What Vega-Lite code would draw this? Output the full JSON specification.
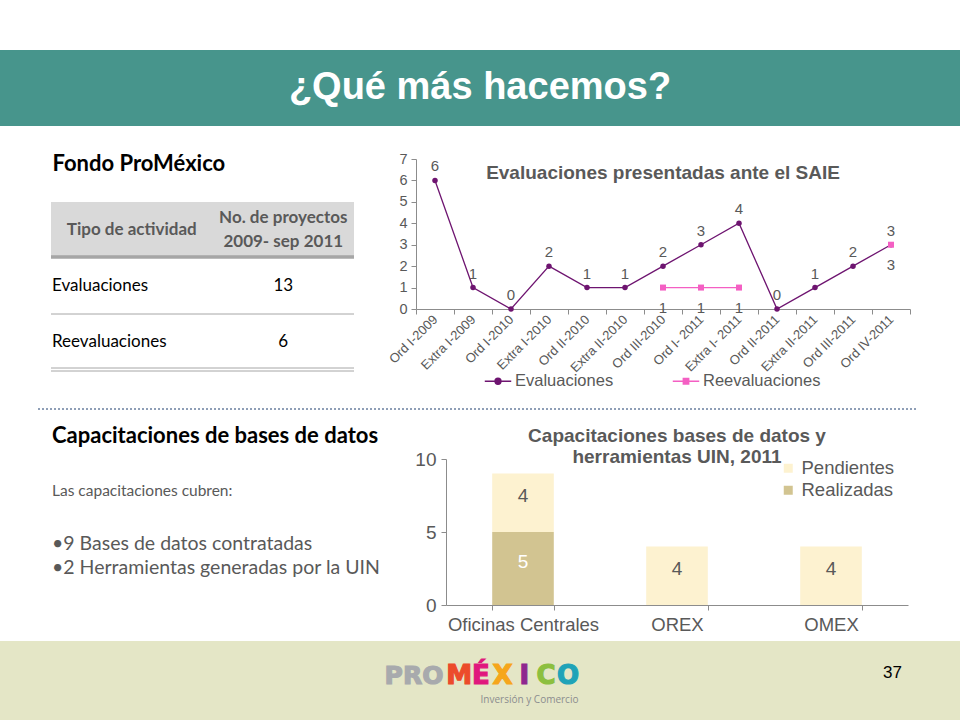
{
  "$schema": "https://vega.github.io/schema/vega-lite/v6.json",
  "background": "white",
  "padding": {"top": 50, "left": 0, "right": 0, "bottom": 0},
  "spacing": 0,
  "resolve": {"scale": {"color": "independent"}, "legend": {"color": "independent"}},
  "config": {
    "view": {"stroke": null},
    "font": "Liberation Sans",
    "axis": {"domainColor": "#8c8c8c", "tickColor": "#8c8c8c", "labelColor": "#595959", "labelFont": "Liberation Sans", "grid": false}
  },
  "datasets": {
    "encabezado": [
      {"fila": "encabezado", "columna": "actividad", "texto": "Tipo de actividad"},
      {"fila": "encabezado", "columna": "proyectos", "texto": ["No. de proyectos", "2009- sep 2011"]}
    ],
    "fondo": [
      {"actividad": "Evaluaciones", "proyectos": 13},
      {"actividad": "Reevaluaciones", "proyectos": 6}
    ],
    "evaluaciones": [
      {"periodo": "Ord I-2009", "serie": "Evaluaciones", "valor": 6},
      {"periodo": "Extra I-2009", "serie": "Evaluaciones", "valor": 1},
      {"periodo": "Ord I-2010", "serie": "Evaluaciones", "valor": 0},
      {"periodo": "Extra I-2010", "serie": "Evaluaciones", "valor": 2},
      {"periodo": "Ord II-2010", "serie": "Evaluaciones", "valor": 1},
      {"periodo": "Extra II-2010", "serie": "Evaluaciones", "valor": 1},
      {"periodo": "Ord III-2010", "serie": "Evaluaciones", "valor": 2},
      {"periodo": "Ord I- 2011", "serie": "Evaluaciones", "valor": 3},
      {"periodo": "Extra I- 2011", "serie": "Evaluaciones", "valor": 4},
      {"periodo": "Ord II-2011", "serie": "Evaluaciones", "valor": 0},
      {"periodo": "Extra II-2011", "serie": "Evaluaciones", "valor": 1},
      {"periodo": "Ord III-2011", "serie": "Evaluaciones", "valor": 2},
      {"periodo": "Ord IV-2011", "serie": "Evaluaciones", "valor": 3},
      {"periodo": "Ord III-2010", "serie": "Reevaluaciones", "valor": 1},
      {"periodo": "Ord I- 2011", "serie": "Reevaluaciones", "valor": 1},
      {"periodo": "Extra I- 2011", "serie": "Reevaluaciones", "valor": 1},
      {"periodo": "Ord II-2011", "serie": "Reevaluaciones", "valor": null},
      {"periodo": "Extra II-2011", "serie": "Reevaluaciones", "valor": null},
      {"periodo": "Ord III-2011", "serie": "Reevaluaciones", "valor": null},
      {"periodo": "Ord IV-2011", "serie": "Reevaluaciones", "valor": 3}
    ],
    "capacitaciones": [
      {"oficina": "Oficinas Centrales", "estado": "Realizadas", "valor": 5},
      {"oficina": "Oficinas Centrales", "estado": "Pendientes", "valor": 4},
      {"oficina": "OREX", "estado": "Pendientes", "valor": 4},
      {"oficina": "OMEX", "estado": "Pendientes", "valor": 4}
    ]
  },
  "vconcat": [
    {
      "width": 960, "height": 76,
      "view": {"fill": "#47958c", "stroke": null},
      "data": {"values": [{"titulo": "¿Qué más hacemos?"}]},
      "mark": {"type": "text", "font": "Liberation Sans", "fontWeight": "bold", "fontSize": 38, "color": "#ffffff"},
      "encoding": {"text": {"field": "titulo"}}
    },
    {
      "spacing": 0,
      "resolve": {"scale": {"color": "independent"}, "legend": {"color": "independent"}},
      "hconcat": [
        {"width": 49, "height": 282, "data": {"values": []}, "mark": "text"},
        {
          "spacing": 0,
          "vconcat": [
            {"width": 303, "height": 27, "data": {"values": []}, "mark": "text"},
            {
              "width": 303, "height": 168,
              "title": {"text": "Fondo ProMéxico", "anchor": "start", "orient": "top", "offset": 26, "dx": 3, "font": "Lato", "fontSize": 22, "fontWeight": "bold", "color": "#000000"},
              "layer": [
                {
                  "data": {"name": "encabezado"},
                  "mark": {"type": "rect", "color": "#d9d9d9"},
                  "encoding": {"y": {"field": "fila", "type": "nominal", "axis": null, "scale": {"type": "band", "domain": ["encabezado", "Evaluaciones", "Reevaluaciones"], "paddingInner": 0, "paddingOuter": 0}}}
                },
                {
                  "data": {"name": "encabezado"},
                  "mark": {"type": "rule", "color": "#a6a6a6", "strokeWidth": 3, "yOffset": -1},
                  "encoding": {"y": {"field": "fila", "type": "nominal", "bandPosition": 1, "axis": null}}
                },
                {
                  "data": {"name": "fondo"},
                  "transform": [{"filter": "datum.actividad === 'Evaluaciones'"}],
                  "mark": {"type": "rule", "color": "#a6a6a6", "strokeWidth": 1},
                  "encoding": {"y": {"field": "actividad", "type": "nominal", "bandPosition": 1, "axis": null}}
                },
                {
                  "data": {"name": "fondo"},
                  "transform": [{"filter": "datum.actividad === 'Reevaluaciones'"}],
                  "mark": {"type": "rule", "color": "#a6a6a6", "strokeWidth": 1, "yOffset": -2},
                  "encoding": {"y": {"field": "actividad", "type": "nominal", "bandPosition": 1, "axis": null}}
                },
                {
                  "data": {"name": "fondo"},
                  "transform": [{"filter": "datum.actividad === 'Reevaluaciones'"}],
                  "mark": {"type": "rule", "color": "#a6a6a6", "strokeWidth": 1, "yOffset": 1},
                  "encoding": {"y": {"field": "actividad", "type": "nominal", "bandPosition": 1, "axis": null}}
                },
                {
                  "data": {"name": "encabezado"},
                  "transform": [{"filter": "datum.columna === 'actividad'"}],
                  "mark": {"type": "text", "font": "Lato", "fontWeight": "bold", "fontSize": 17, "color": "#595959", "dx": 5},
                  "encoding": {
                    "x": {"field": "columna", "type": "nominal", "axis": null, "scale": {"type": "band", "domain": ["actividad", "proyectos"], "paddingInner": 0, "paddingOuter": 0}},
                    "y": {"field": "fila", "type": "nominal", "axis": null},
                    "text": {"field": "texto"}
                  }
                },
                {
                  "data": {"name": "encabezado"},
                  "transform": [{"filter": "datum.columna === 'proyectos'"}],
                  "mark": {"type": "text", "font": "Lato", "fontWeight": "bold", "fontSize": 17, "color": "#595959", "lineHeight": 24, "dx": 5, "dy": -12},
                  "encoding": {
                    "x": {"field": "columna", "type": "nominal", "axis": null},
                    "y": {"field": "fila", "type": "nominal", "axis": null},
                    "text": {"field": "texto"}
                  }
                },
                {
                  "data": {"name": "fondo"},
                  "mark": {"type": "text", "font": "Lato", "fontSize": 17, "color": "#000000", "align": "left", "dx": 1},
                  "encoding": {
                    "x": {"datum": "actividad", "type": "nominal", "bandPosition": 0, "axis": null},
                    "y": {"field": "actividad", "type": "nominal", "axis": null},
                    "text": {"field": "actividad"}
                  }
                },
                {
                  "data": {"name": "fondo"},
                  "mark": {"type": "text", "font": "Lato", "fontSize": 17, "color": "#000000", "dx": 5},
                  "encoding": {
                    "x": {"datum": "proyectos", "type": "nominal", "axis": null},
                    "y": {"field": "actividad", "type": "nominal", "axis": null},
                    "text": {"field": "proyectos"}
                  }
                }
              ]
            }
          ]
        },
        {"width": 30, "height": 1, "data": {"values": []}, "mark": "text"},
        {
          "spacing": 0,
          "vconcat": [
            {"width": 494, "height": 25, "data": {"values": []}, "mark": "text"},
            {
              "width": 494, "height": 150,
              "data": {"name": "evaluaciones"},
              "title": {"text": "Evaluaciones presentadas ante el SAIE", "font": "Liberation Sans", "fontSize": 19, "fontWeight": "bold", "color": "#595959", "offset": -32, "anchor": "middle"},
              "encoding": {
                "x": {"field": "periodo", "type": "nominal", "sort": null, "scale": {"type": "band", "paddingInner": 0, "paddingOuter": 0},
                      "axis": {"title": null, "labelAngle": -45, "labelAlign": "right", "labelBaseline": "middle", "labelFontSize": 13, "tickBand": "extent", "tickSize": 5, "labelPadding": 3}},
                "y": {"field": "valor", "type": "quantitative", "scale": {"domain": [0, 7], "nice": false},
                      "axis": {"title": null, "values": [0, 1, 2, 3, 4, 5, 6, 7], "labelFontSize": 14.5, "tickSize": 5, "labelPadding": 4}},
                "color": {"field": "serie", "type": "nominal", "scale": {"domain": ["Evaluaciones", "Reevaluaciones"], "range": ["#6e1470", "#f45fc3"]},
                          "legend": {"orient": "none", "legendX": 68, "legendY": 241, "direction": "horizontal", "title": null, "labelFontSize": 16.5, "labelColor": "#595959", "labelFont": "Liberation Sans",
                                     "symbolType": "M-1,0L1,0M0.22,0A0.22,0.22,0,1,1,-0.22,0A0.22,0.22,0,1,1,0.22,0Z", "symbolSize": 700, "symbolStrokeWidth": 1.5, "columnPadding": 55, "labelOffset": 3,
                                     "encode": {"symbols": {"update": {"shape": {"signal": "datum.value === 'Reevaluaciones' ? 'M-1,0L1,0M-0.2,-0.2L0.2,-0.2L0.2,0.2L-0.2,0.2Z' : 'M-1,0L1,0M0.22,0A0.22,0.22,0,1,1,-0.22,0A0.22,0.22,0,1,1,0.22,0Z'"}}}}}}
              },
              "layer": [
                {"mark": {"type": "line", "strokeWidth": 1.3, "invalid": "break-paths-filter-domains"}},
                {"transform": [{"filter": "datum.serie === 'Evaluaciones' && isValid(datum.valor)"}], "mark": {"type": "point", "shape": "circle", "filled": true, "size": 30, "opacity": 1}},
                {"transform": [{"filter": "datum.serie === 'Reevaluaciones' && isValid(datum.valor)"}], "mark": {"type": "point", "shape": "square", "filled": true, "size": 36, "opacity": 1}},
                {"transform": [{"filter": "datum.serie === 'Evaluaciones' && isValid(datum.valor)"}], "mark": {"type": "text", "dy": -14, "fontSize": 15},
                 "encoding": {"text": {"field": "valor"}, "color": {"value": "#595959"}}},
                {"transform": [{"filter": "datum.serie === 'Reevaluaciones' && isValid(datum.valor)"}], "mark": {"type": "text", "dy": 20, "fontSize": 15},
                 "encoding": {"text": {"field": "valor"}, "color": {"value": "#595959"}}}
              ]
            }
          ]
        }
      ]
    },
    {
      "spacing": 0,
      "hconcat": [
        {"width": 35, "height": 1, "data": {"values": []}, "mark": "text"},
        {
          "width": 880, "height": 1,
          "data": {"values": [{}]},
          "mark": {"type": "rule", "color": "#1f3e6e", "strokeDash": [2, 2], "strokeWidth": 1},
          "encoding": {"y": {"datum": 0, "type": "quantitative", "axis": null, "scale": {"domain": [0, 1]}}}
        }
      ]
    },
    {
      "spacing": 0,
      "resolve": {"scale": {"color": "independent"}, "legend": {"color": "independent"}},
      "hconcat": [
        {"width": 52, "height": 231, "data": {"values": []}, "mark": "text"},
        {
          "spacing": 0,
          "vconcat": [
            {
              "width": 330, "height": 16, "data": {"values": []}, "mark": "text",
              "title": {"text": "Capacitaciones de bases de datos", "orient": "bottom", "anchor": "start", "offset": 0, "baseline": "top", "font": "Lato", "fontSize": 22, "fontWeight": "bold", "color": "#000000"}
            },
            {
              "width": 330, "height": 37, "data": {"values": []}, "mark": "text",
              "title": {
                "text": "Las capacitaciones cubren:",
                "subtitle": ["•9 Bases de datos contratadas", "•2 Herramientas generadas por la UIN"],
                "orient": "bottom", "anchor": "start", "offset": 0, "baseline": "top",
                "font": "Lato", "fontSize": 15.5, "fontWeight": "normal", "color": "#595959",
                "subtitleFont": "Lato", "subtitleFontSize": 19.5, "subtitleColor": "#595959", "subtitleLineHeight": 24, "subtitlePadding": 35
              }
            }
          ]
        },
        {"width": 32, "height": 1, "data": {"values": []}, "mark": "text"},
        {
          "spacing": 0,
          "vconcat": [
            {"width": 462, "height": 16, "data": {"values": []}, "mark": "text"},
            {
              "width": 462, "height": 146,
              "data": {"name": "capacitaciones"},
              "title": {"text": ["Capacitaciones bases de datos y", "herramientas UIN, 2011"], "font": "Liberation Sans", "fontSize": 19, "fontWeight": "bold", "color": "#595959", "lineHeight": 21, "offset": -16.5},
              "encoding": {
                "x": {"field": "oficina", "type": "nominal", "sort": null, "scale": {"paddingInner": 0.6, "paddingOuter": 0.3},
                      "axis": {"title": null, "labelAngle": 0, "labelFontSize": 18.5, "tickBand": "extent", "tickSize": 5, "labelPadding": 5}},
                "y": {"field": "valor", "type": "quantitative", "stack": "zero", "scale": {"domain": [0, 10], "nice": false},
                      "axis": {"title": null, "values": [0, 5, 10], "labelFontSize": 19, "tickSize": 5, "labelPadding": 5}}
              },
              "layer": [
                {
                  "mark": {"type": "bar"},
                  "encoding": {
                    "color": {"field": "estado", "type": "nominal", "scale": {"domain": ["Pendientes", "Realizadas"], "range": ["#fdf2d0", "#d2c491"]},
                              "legend": {"orient": "none", "legendX": 333, "legendY": 49, "title": null, "labelFontSize": 18.5, "labelColor": "#595959", "labelFont": "Liberation Sans", "symbolType": "square", "symbolSize": 81, "rowPadding": 3, "symbolStrokeWidth": 0}},
                    "order": {"field": "estado", "sort": "descending"}
                  }
                },
                {
                  "mark": {"type": "text", "fontSize": 19, "dy": -7},
                  "encoding": {
                    "y": {"field": "valor", "type": "quantitative", "stack": "zero", "bandPosition": 0.5},
                    "detail": {"field": "estado"},
                    "order": {"field": "estado", "sort": "descending"},
                    "text": {"field": "valor"},
                    "color": {"condition": {"test": "datum.estado === 'Realizadas'", "value": "#ffffff"}, "value": "#595959"}
                  }
                }
              ]
            }
          ]
        }
      ]
    },
    {
      "spacing": -1,
      "resolve": {"scale": {"color": "independent", "stroke": "independent"}, "legend": {"color": "independent"}},
      "hconcat": [
        {"width": 382, "height": 80, "view": {"fill": "#e4e6c6", "stroke": null}, "data": {"values": []}, "mark": "text"},
        {
          "width": 64, "height": 80, "view": {"fill": "#e4e6c6", "stroke": null},
          "data": {"values": [{"texto": "PRO"}]},
          "mark": {"type": "text", "font": "DejaVu Sans", "fontWeight": "bold", "fontSize": 25, "color": "#a8aaad", "stroke": "#a8aaad", "strokeWidth": 1.2, "dy": -5},
          "encoding": {"text": {"field": "texto"}}
        },
        {
          "width": 135, "height": 80, "view": {"fill": "#e4e6c6", "stroke": null},
          "layer": [
            {
              "data": {"values": [{"letra": "M"}, {"letra": "É"}, {"letra": "X"}, {"letra": "I"}, {"letra": "C"}, {"letra": "O"}]},
              "mark": {"type": "text", "font": "DejaVu Sans", "fontWeight": "bold", "fontSize": 26, "strokeWidth": 1.2, "dy": -5},
              "encoding": {
                "x": {"field": "letra", "type": "nominal", "sort": null, "scale": {"type": "point", "padding": 0.6}, "axis": null},
                "text": {"field": "letra"},
                "color": {"field": "letra", "type": "nominal", "scale": {"domain": ["M", "É", "X", "I", "C", "O"], "range": ["#ec4b2b", "#e0187d", "#f6a61c", "#8e278f", "#8cbf3f", "#1fa3b8"]}, "legend": null},
                "stroke": {"field": "letra", "type": "nominal", "scale": {"domain": ["M", "É", "X", "I", "C", "O"], "range": ["#ec4b2b", "#e0187d", "#f6a61c", "#8e278f", "#8cbf3f", "#1fa3b8"]}, "legend": null}
              }
            },
            {
              "data": {"values": [{"texto": "Inversión y Comercio"}]},
              "mark": {"type": "text", "font": "Open Sans", "fontSize": 10, "color": "#8b8d8f", "dx": 16, "dy": 19},
              "encoding": {"text": {"field": "texto"}}
            }
          ]
        },
        {"width": 291, "height": 80, "view": {"fill": "#e4e6c6", "stroke": null}, "data": {"values": []}, "mark": "text"},
        {
          "width": 41, "height": 80, "view": {"fill": "#e4e6c6", "stroke": null},
          "data": {"values": [{"pagina": 37}]},
          "mark": {"type": "text", "font": "Liberation Sans", "fontSize": 17, "color": "#000000", "dy": -8},
          "encoding": {"text": {"field": "pagina"}}
        },
        {"width": 52, "height": 80, "view": {"fill": "#e4e6c6", "stroke": null}, "data": {"values": []}, "mark": "text"}
      ]
    }
  ]
}
